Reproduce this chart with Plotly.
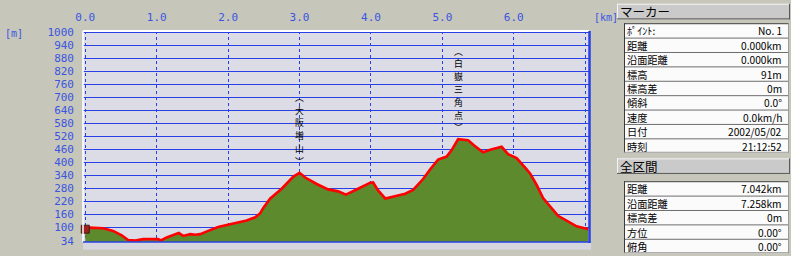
import plotly.graph_objects as go

# ---------------- data ----------------
dist_km = [0.0, 0.06, 0.25, 0.39, 0.51, 0.60, 0.70, 0.81, 1.02, 1.06, 1.14, 1.23, 1.31, 1.37,
           1.47, 1.54, 1.61, 1.72, 1.86, 1.98, 2.12, 2.26, 2.38, 2.45, 2.49, 2.59, 2.75, 2.82,
           2.91, 3.00, 3.08, 3.24, 3.40, 3.54, 3.65, 3.82, 3.99, 4.03, 4.10, 4.20, 4.31, 4.48,
           4.59, 4.73, 4.83, 4.94, 5.06, 5.13, 5.22, 5.36, 5.45, 5.57, 5.67, 5.83, 5.92, 6.04,
           6.18, 6.23, 6.32, 6.41, 6.62, 6.74, 6.88, 7.02, 7.042]
elev_m = [91, 98, 95, 83, 63, 41, 39, 45, 45, 39, 53, 63, 74, 60,
          68, 65, 68, 83, 101, 110, 122, 131, 146, 165, 188, 233, 278, 300,
          333, 352, 330, 300, 275, 266, 251, 278, 306, 307, 270, 233, 243, 255,
          273, 323, 368, 413, 427, 457, 507, 502, 477, 447, 458, 472, 438, 420,
          368, 348, 296, 235, 153, 131, 104, 93, 91]

x_ticks = [0, 1, 2, 3, 4, 5, 6, 7]
x_tick_text = ["0.0", "1.0", "2.0", "3.0", "4.0", "5.0", "6.0", ""]
y_ticks = [34, 100, 160, 220, 280, 340, 400, 460, 520, 580, 640, 700, 760, 820, 880, 940, 1000]
y_tick_text = [str(v) for v in y_ticks]

peak_labels = ["︵大阪増山︶", "︵白嶽三角点︶"]
peak_windows = [(2.5, 3.5), (4.8, 5.6)]

marker_title = "マーカー"
marker_labels = ["ﾎﾟｲﾝﾄ:", "距離", "沿面距離", "標高", "標高差", "傾斜", "速度", "日付", "時刻"]
marker_values = ["No. 1", "0.000km", "0.000km", "91m", "0m", "0.0°", "0.0km/h", "2002/05/02", "21:12:52"]
total_title = "全区間"
total_labels = ["距離", "沿面距離", "標高差", "方位", "俯角"]
total_values = ["7.042km", "7.258km", "0m", "0.00°", "0.00°"]

# ---------------- geometry ----------------
W, H = 791, 256
L, T, R, B = 83, 31, 202, 8
PW, PH = W - L - R, H - T - B

def px(xp):
    return (xp - L) / PW

def py(yp):
    return 1 - (yp - T) / PH

BLUE = "#2840e6"
TXT_BLUE = "#3a55e0"
JP = "Noto Sans CJK JP"
MONO = "DejaVu Sans Mono"

fig = go.Figure()
fig.add_trace(go.Scatter(
    x=dist_km, y=elev_m, mode="lines",
    line=dict(color="#ff0000", width=2.6),
    fill="tozeroy", fillcolor="#5c8a2c",
    hoverinfo="skip", showlegend=False,
))
# start marker (hiker icon stand-in)
fig.add_trace(go.Scatter(
    x=[dist_km[0]], y=[elev_m[0]], mode="markers",
    marker=dict(symbol="square", size=8, color="#a02020", line=dict(color="#3a2010", width=1)),
    hoverinfo="skip", showlegend=False, cliponaxis=False,
))

shapes = []
annotations = []

# bottom strip below plot
shapes.append(dict(type="rect", xref="paper", yref="paper", x0=px(83), x1=px(591), y0=py(256), y1=py(248),
                   fillcolor="#d6d6df", line=dict(width=0), layer="below"))
# frame: white top/left, blue right/bottom
shapes.append(dict(type="line", xref="paper", yref="paper", x0=0, x1=1, y0=1, y1=1,
                   line=dict(color="#ffffff", width=2)))
shapes.append(dict(type="line", xref="paper", yref="paper", x0=0, x1=0, y0=0, y1=1,
                   line=dict(color="#ffffff", width=1.5)))
shapes.append(dict(type="line", xref="paper", yref="paper", x0=px(589.5), x1=px(589.5), y0=py(249), y1=1,
                   line=dict(color=BLUE, width=2.5)))
shapes.append(dict(type="line", xref="paper", yref="paper", x0=0, x1=px(590.5), y0=py(248), y1=py(248),
                   line=dict(color=BLUE, width=1.5)))

# peak labels (vertical text, one character per cell above the peak)
CELL = 12.8
GAP = 5.0
for label, (a, b) in zip(peak_labels, peak_windows):
    idx = max((i for i in range(len(dist_km)) if a <= dist_km[i] <= b), key=lambda i: elev_m[i])
    n = len(label)
    for i, ch in enumerate(label):
        shift = GAP + (n - 1 - i) * CELL + CELL / 2
        annotations.append(dict(x=dist_km[idx], y=elev_m[idx], xref="x", yref="y", text=ch,
                                showarrow=False, yshift=shift, xanchor="center", yanchor="middle",
                                borderpad=0, font=dict(family=JP, size=8.8, color="#000000")))

# axis unit labels
annotations.append(dict(x=px(3), y=py(34), xref="paper", yref="paper", text="[m]", showarrow=False,
                        xanchor="left", yanchor="middle", font=dict(family=MONO, size=10, color=TXT_BLUE)))
annotations.append(dict(x=px(592), y=py(17.5), xref="paper", yref="paper", text="[km]", showarrow=False,
                        xanchor="left", yanchor="middle", font=dict(family=MONO, size=10, color=TXT_BLUE)))

# ---------------- side panel ----------------
def header(y0, y1, title):
    shapes.append(dict(type="rect", xref="paper", yref="paper", x0=px(617), x1=px(790), y0=py(y1), y1=py(y0),
                       fillcolor="#cacaca", line=dict(width=0)))
    shapes.append(dict(type="line", xref="paper", yref="paper", x0=px(617), x1=px(790), y0=py(y0 + 0.5), y1=py(y0 + 0.5),
                       line=dict(color="#f4f4f4", width=1)))
    shapes.append(dict(type="line", xref="paper", yref="paper", x0=px(617.5), x1=px(617.5), y0=py(y1), y1=py(y0),
                       line=dict(color="#f4f4f4", width=1)))
    shapes.append(dict(type="line", xref="paper", yref="paper", x0=px(617), x1=px(790), y0=py(y1 - 0.5), y1=py(y1 - 0.5),
                       line=dict(color="#5a5a5a", width=1)))
    shapes.append(dict(type="line", xref="paper", yref="paper", x0=px(789.5), x1=px(789.5), y0=py(y1), y1=py(y0),
                       line=dict(color="#5a5a5a", width=1)))
    annotations.append(dict(x=px(619), y=py((y0 + y1) / 2), xref="paper", yref="paper", text=title,
                            showarrow=False, xanchor="left", yanchor="middle", borderpad=0,
                            font=dict(family=JP, size=12.5, color="#000000")))

def table(top, labels, values, rowh=14.8):
    bottom = top + rowh * len(labels)
    shapes.append(dict(type="rect", xref="paper", yref="paper", x0=px(624), x1=px(789), y0=py(bottom), y1=py(top),
                       fillcolor="#fbfbfb", line=dict(width=0)))
    for k, (lab, val) in enumerate(zip(labels, values)):
        y0 = top + k * rowh
        shapes.append(dict(type="line", xref="paper", yref="paper", x0=px(624), x1=px(789), y0=py(y0 + 0.5), y1=py(y0 + 0.5),
                           line=dict(color="#6e6e6e" if k else "#3a3a3a", width=1)))
        cy = y0 + rowh / 2 + 0.5
        annotations.append(dict(x=px(626), y=py(cy), xref="paper", yref="paper", text=lab, showarrow=False,
                                xanchor="left", yanchor="middle", borderpad=0,
                                font=dict(family=JP, size=10.2, color="#000000")))
        annotations.append(dict(x=px(783), y=py(cy), xref="paper", yref="paper", text=val, showarrow=False,
                                xanchor="right", yanchor="middle", borderpad=0,
                                font=dict(family=JP, size=10.2, color="#000000")))
    shapes.append(dict(type="line", xref="paper", yref="paper", x0=px(624.5), x1=px(624.5), y0=py(bottom), y1=py(top),
                       line=dict(color="#3a3a3a", width=1)))
    shapes.append(dict(type="line", xref="paper", yref="paper", x0=px(788.5), x1=px(788.5), y0=py(bottom), y1=py(top),
                       line=dict(color="#9a9a9a", width=1)))
    shapes.append(dict(type="line", xref="paper", yref="paper", x0=px(624), x1=px(789), y0=py(bottom - 0.5), y1=py(bottom - 0.5),
                       line=dict(color="#9a9a9a", width=1)))

header(3, 19, marker_title)
table(23, marker_labels, marker_values)
header(162, 178, total_title)
table(185.5, total_labels, total_values)

fig.update_layout(
    width=W, height=H,
    margin=dict(l=L, r=R, t=T, b=B, pad=0),
    paper_bgcolor="#c6c6bb",
    plot_bgcolor="#dcdce6",
    showlegend=False,
    xaxis=dict(
        side="top", range=[-0.032, 7.053], tickvals=x_ticks, ticktext=x_tick_text,
        showgrid=True, gridcolor=BLUE, gridwidth=1, griddash="dot",
        zeroline=False, showline=False, ticks="", ticklabelstandoff=7,
        tickfont=dict(family=MONO, size=11, color=TXT_BLUE), fixedrange=True,
    ),
    yaxis=dict(
        range=[31.75, 1007.6], tickvals=y_ticks, ticktext=y_tick_text,
        showgrid=True, gridcolor=BLUE, gridwidth=1.3,
        zeroline=False, showline=False, ticks="", ticklabelstandoff=8,
        tickfont=dict(family=MONO, size=11, color=TXT_BLUE), fixedrange=True,
    ),
    shapes=shapes,
    annotations=annotations,
)

fig.write_html("out.html")
